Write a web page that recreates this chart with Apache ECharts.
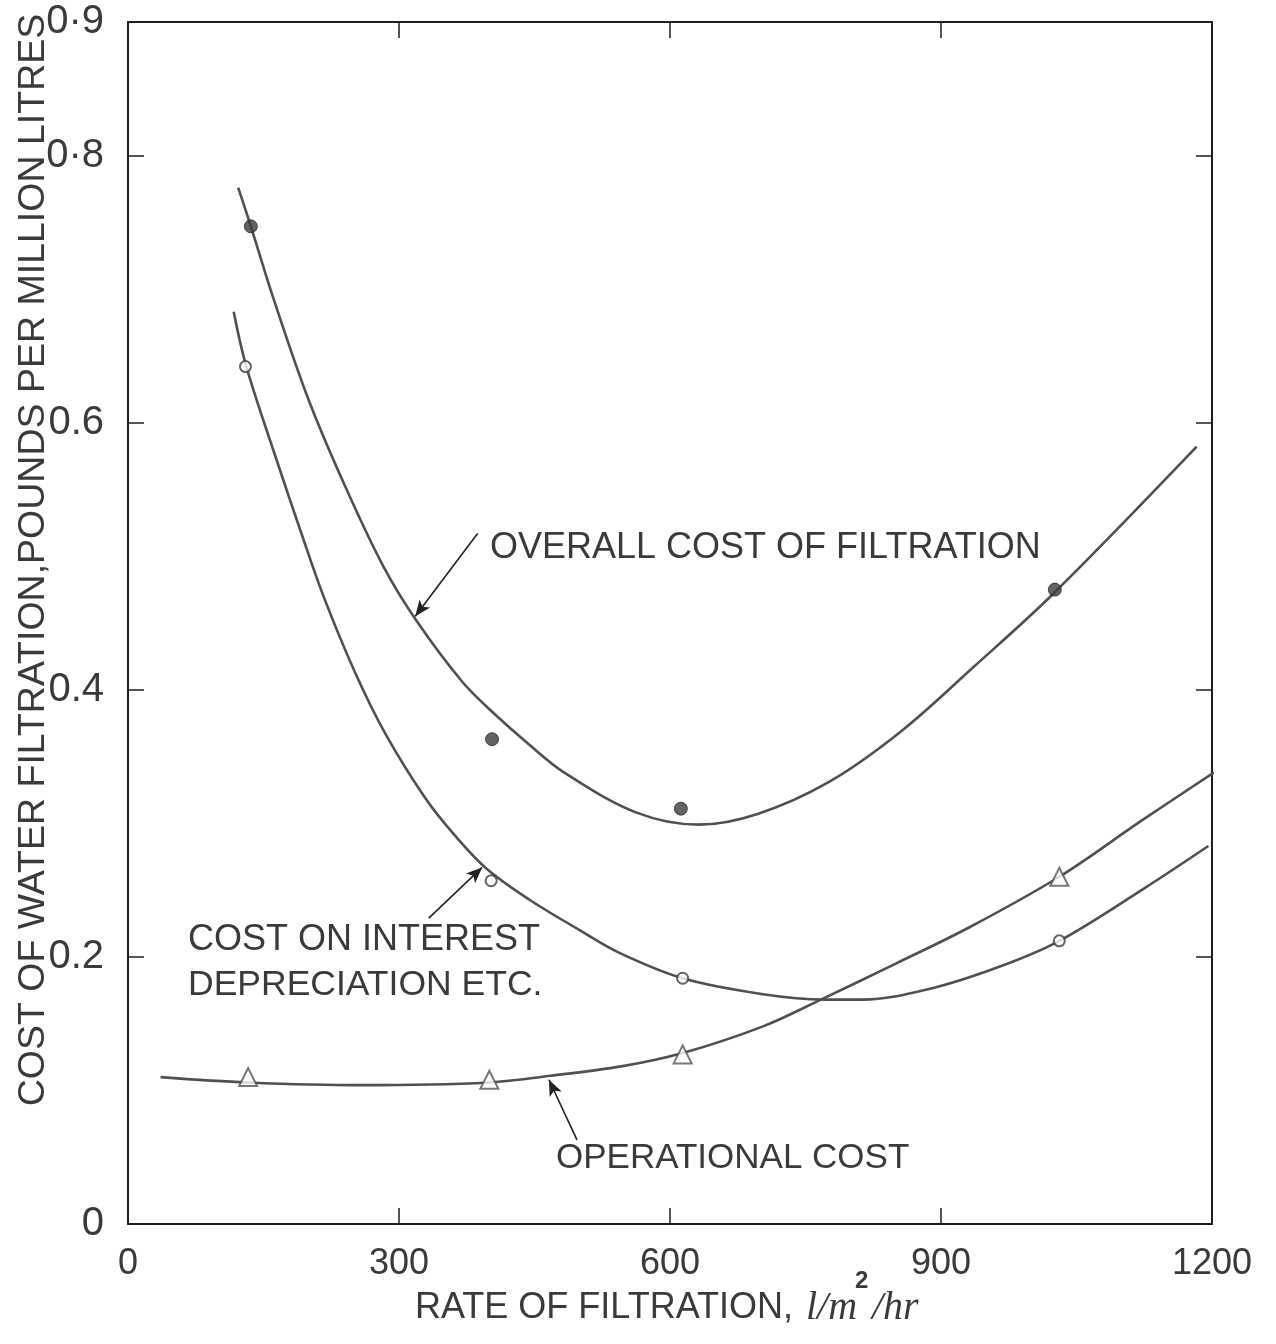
<!DOCTYPE html>
<html>
<head>
<meta charset="utf-8">
<script src="https://cdn.jsdelivr.net/npm/echarts@6/dist/echarts.min.js"></script>
<style>
html,body{margin:0;padding:0;background:#fff;}
#chart{width:1276px;height:1344px;}
</style>
</head>
<body>
<div id="chart"></div>
<script>
// ---- Data ----
// X tick values / labels
const xTickValues = [0, 300, 600, 900, 1200];
const xTickLabels = ['0', '300', '600', '900', '1200'];
// Y tick values / labels
const yTickValues = [0, 0.2, 0.4, 0.6, 0.8, 0.9];
const yTickLabels = ['0', '0.2', '0.4', '0.6', '0·8', '0·9'];

// Fitted curves
const overallCurveX = [122, 136, 161, 200, 240, 283, 319, 370, 404, 444, 483, 563, 632, 697, 776, 856, 936, 1026, 1183];
const overallCurveY = [0.776, 0.747, 0.693, 0.617, 0.553, 0.492, 0.452, 0.406, 0.383, 0.359, 0.338, 0.308, 0.299, 0.307, 0.331, 0.369, 0.417, 0.473, 0.582];

const interestCurveX = [117, 131, 167, 192, 217, 252, 285, 330, 363, 397, 444, 500, 544, 614, 703, 771, 813, 887, 966, 1031, 1122, 1196];
const interestCurveY = [0.683, 0.642, 0.567, 0.517, 0.469, 0.412, 0.367, 0.318, 0.290, 0.266, 0.243, 0.220, 0.203, 0.184, 0.172, 0.168, 0.168, 0.176, 0.193, 0.212, 0.250, 0.283];

const operationalCurveX = [36, 133, 259, 400, 468, 546, 614, 703, 767, 850, 931, 1031, 1122, 1202];
const operationalCurveY = [0.110, 0.106, 0.104, 0.106, 0.111, 0.118, 0.128, 0.148, 0.168, 0.195, 0.222, 0.260, 0.302, 0.338];

// Measured points
const overallPtsX = [136, 403, 612, 1026];
const overallPtsY = [0.747, 0.363, 0.311, 0.475];
const interestPtsX = [130, 402, 614, 1031];
const interestPtsY = [0.642, 0.257, 0.184, 0.212];
const operationalPtsX = [133, 400, 614, 1031];
const operationalPtsY = [0.110, 0.108, 0.127, 0.260];

// Annotation arrows (data coordinates: [from, to])
const overallArrow = [[387, 0.517], [318, 0.455]];
const interestArrow = [[333, 0.229], [392, 0.267]];
const operationalArrow = [[497, 0.063], [466, 0.108]];

const zip = (xs, ys) => xs.map((x, i) => [x, ys[i]]);

const TXT = '#3a3a3a';
const LINE = '#505050';
const AX = '#1e1e1e';
const FONT = '"Liberation Sans", Arial, sans-serif';

const chart = echarts.init(document.getElementById('chart'), null, {renderer: 'canvas'});

function arrowMark(pair) {
  return {
    silent: true,
    symbol: ['none', 'arrow'],
    symbolSize: [10, 16],
    label: {show: false},
    lineStyle: {type: 'solid', color: '#222', width: 1.6},
    emphasis: {disabled: true},
    data: [[{coord: pair[0]}, {coord: pair[1]}]],
    animation: false
  };
}

const axisLineStyle = {color: AX, width: 2};

function curveSeries(name, xs, ys, arrow) {
  return {
    name: name, type: 'line', smooth: 0.35, showSymbol: false,
    data: zip(xs, ys),
    lineStyle: {color: LINE, width: 2.6}, z: 2,
    markLine: arrowMark(arrow)
  };
}

const option = {
  animation: false,
  backgroundColor: '#ffffff',
  grid: {left: 128, right: 64, top: 22, bottom: 120, show: false},
  xAxis: [{
    type: 'value', min: 0, max: 1200, interval: 300, position: 'bottom',
    axisLine: {show: true, onZero: false, lineStyle: axisLineStyle},
    axisTick: {show: true, inside: true, length: 16, customValues: [300, 600, 900], lineStyle: {color: AX, width: 1.5}},
    axisLabel: {
      customValues: xTickValues,
      margin: 22, fontSize: 36, color: TXT, fontFamily: FONT,
      formatter: v => { const i = xTickValues.indexOf(v); return i >= 0 ? xTickLabels[i] : ''; }
    },
    splitLine: {show: false}
  }, {
    type: 'value', min: 0, max: 1200, interval: 300, position: 'top',
    axisLine: {show: true, onZero: false, lineStyle: axisLineStyle},
    axisTick: {show: true, inside: true, length: 16, customValues: [300, 600, 900], lineStyle: {color: AX, width: 1.5}},
    axisLabel: {show: false},
    splitLine: {show: false}
  }],
  yAxis: [{
    type: 'value', min: 0, max: 0.9, interval: 0.1, position: 'left',
    axisLine: {show: true, onZero: false, lineStyle: axisLineStyle},
    axisTick: {show: true, inside: true, length: 16, customValues: [0.2, 0.4, 0.6, 0.8], lineStyle: {color: AX, width: 1.5}},
    axisLabel: {
      customValues: yTickValues,
      margin: 24, fontSize: 40, color: TXT, fontFamily: FONT,
      formatter: v => {
        const i = yTickValues.findIndex(t => Math.abs(t - v) < 1e-6);
        return i >= 0 ? yTickLabels[i] : '';
      }
    },
    splitLine: {show: false}
  }, {
    type: 'value', min: 0, max: 0.9, interval: 0.1, position: 'right',
    axisLine: {show: true, onZero: false, lineStyle: axisLineStyle},
    axisTick: {show: true, inside: true, length: 16, customValues: [0.2, 0.4, 0.6, 0.8], lineStyle: {color: AX, width: 1.5}},
    axisLabel: {show: false},
    splitLine: {show: false}
  }],
  series: [
    curveSeries('Overall cost of filtration', overallCurveX, overallCurveY, overallArrow),
    curveSeries('Cost on interest, depreciation etc.', interestCurveX, interestCurveY, interestArrow),
    curveSeries('Operational cost', operationalCurveX, operationalCurveY, operationalArrow),
    {
      name: 'Overall (measured)', type: 'scatter', symbol: 'circle', symbolSize: 13,
      data: zip(overallPtsX, overallPtsY),
      itemStyle: {color: '#3c3c3c', borderColor: '#2a2a2a', borderWidth: 1}, z: 5
    },
    {
      name: 'Interest (measured)', type: 'scatter', symbol: 'circle', symbolSize: 11,
      data: zip(interestPtsX, interestPtsY),
      itemStyle: {color: '#ffffff', borderColor: '#3c3c3c', borderWidth: 2}, z: 5
    },
    {
      name: 'Operational (measured)', type: 'scatter', symbol: 'triangle', symbolSize: 18,
      data: zip(operationalPtsX, operationalPtsY),
      itemStyle: {color: '#ffffff', borderColor: '#555555', borderWidth: 2}, z: 5
    }
  ],
  graphic: [
    {type: 'text', x: 490, y: 548, style: {text: 'OVERALL COST OF FILTRATION', font: '36px ' + FONT, fill: TXT, align: 'left', verticalAlign: 'middle'}},
    {type: 'text', x: 188, y: 940, style: {text: 'COST ON INTEREST', font: '36px ' + FONT, fill: TXT, align: 'left', verticalAlign: 'middle'}},
    {type: 'text', x: 188, y: 985, style: {text: 'DEPRECIATION ETC.', font: '35.5px ' + FONT, fill: TXT, align: 'left', verticalAlign: 'middle'}},
    {type: 'text', x: 556, y: 1158, style: {text: 'OPERATIONAL COST', font: '35px ' + FONT, fill: TXT, align: 'left', verticalAlign: 'middle'}},
    {type: 'text', x: 34, y: 560, rotation: Math.PI / 2, style: {text: 'COST OF WATER FILTRATION,POUNDS PER MILLION LITRES', font: '37.5px ' + FONT, fill: TXT, align: 'center', verticalAlign: 'middle'}},
    {type: 'text', x: 415, y: 1308, style: {text: 'RATE OF FILTRATION,', font: '36px ' + FONT, fill: TXT, align: 'left', verticalAlign: 'middle'}},
    {type: 'text', x: 806, y: 1308, style: {text: 'l/m', font: 'italic 40px "Liberation Serif", serif', fill: TXT, align: 'left', verticalAlign: 'middle'}},
    {type: 'text', x: 855, y: 1281, style: {text: '2', font: 'bold 24px ' + FONT, fill: TXT, align: 'left', verticalAlign: 'middle'}},
    {type: 'text', x: 872, y: 1308, style: {text: '/hr', font: 'italic 40px "Liberation Serif", serif', fill: TXT, align: 'left', verticalAlign: 'middle'}}
  ]
};

chart.setOption(option);
</script>
</body>
</html>
